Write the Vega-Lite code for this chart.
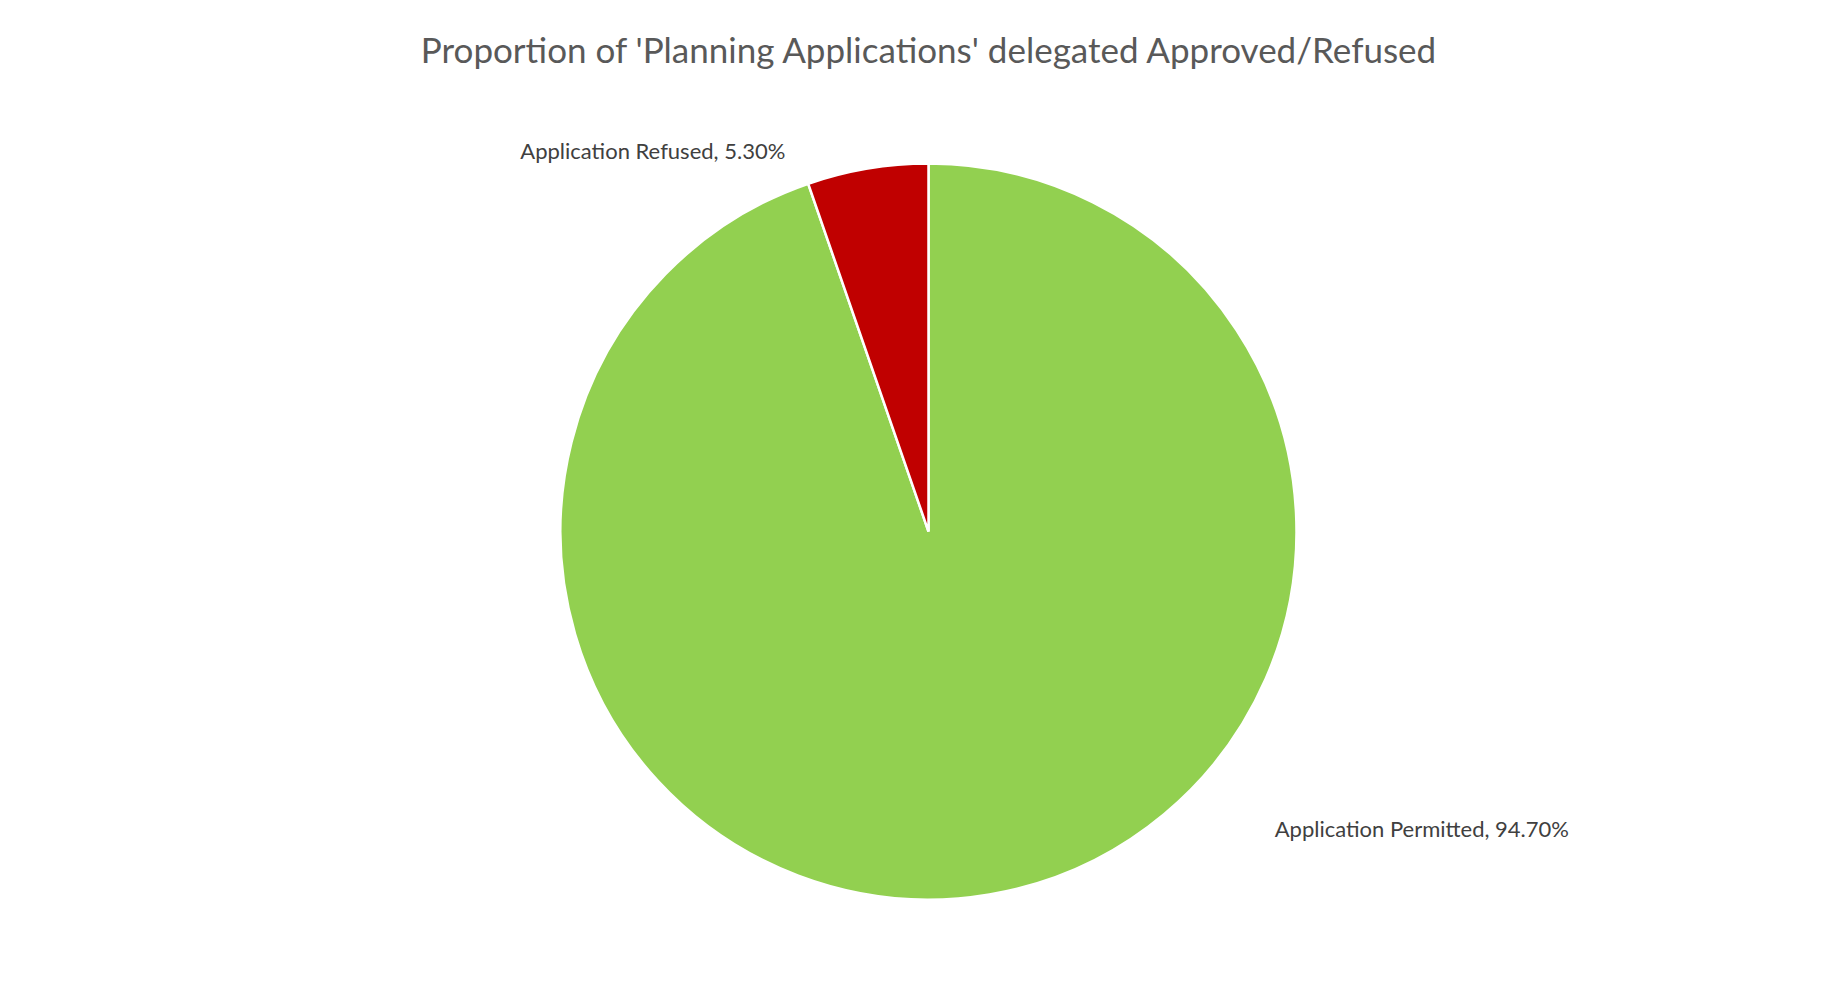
{
  "$schema": "https://vega.github.io/schema/vega-lite/v6.json",
  "autosize": {"type": "fit", "contains": "padding"},
  "width": 1836,
  "height": 981,
  "padding": {"top": 35, "left": 21, "right": 0, "bottom": 0},
  "background": "white",
  "title": {
    "text": "Proportion of 'Planning Applications' delegated Approved/Refused",
    "font": "Lato",
    "fontSize": 35,
    "fontWeight": "normal",
    "color": "#595959",
    "anchor": "middle",
    "offset": 12
  },
  "data": {
    "values": [
      {"category": "Application Permitted", "share": 94.7, "label": "Application Permitted, 94.70%"},
      {"category": "Application Refused", "share": 5.3, "label": "Application Refused, 5.30%"}
    ]
  },
  "encoding": {
    "theta": {"field": "share", "type": "quantitative", "stack": true},
    "order": {"field": "category", "type": "nominal"}
  },
  "layer": [
    {
      "mark": {"type": "arc", "outerRadius": 368, "stroke": "white", "strokeWidth": 2.5},
      "encoding": {
        "color": {
          "field": "category",
          "type": "nominal",
          "scale": {"domain": ["Application Permitted", "Application Refused"], "range": ["#92D050", "#C00000"]},
          "legend": null
        }
      }
    },
    {
      "transform": [{"filter": "datum.category === 'Application Refused'"}],
      "mark": {"type": "text", "radius": 385, "dx": -207, "align": "right", "baseline": "middle", "font": "Lato", "fontSize": 22, "color": "#404040"},
      "encoding": {"text": {"field": "label"}}
    },
    {
      "transform": [{"filter": "datum.category === 'Application Permitted'"}],
      "mark": {"type": "text", "radius": 303, "dx": 296, "align": "left", "baseline": "middle", "font": "Lato", "fontSize": 22, "color": "#404040"},
      "encoding": {"text": {"field": "label"}}
    }
  ],
  "config": {"view": {"stroke": null}}
}
